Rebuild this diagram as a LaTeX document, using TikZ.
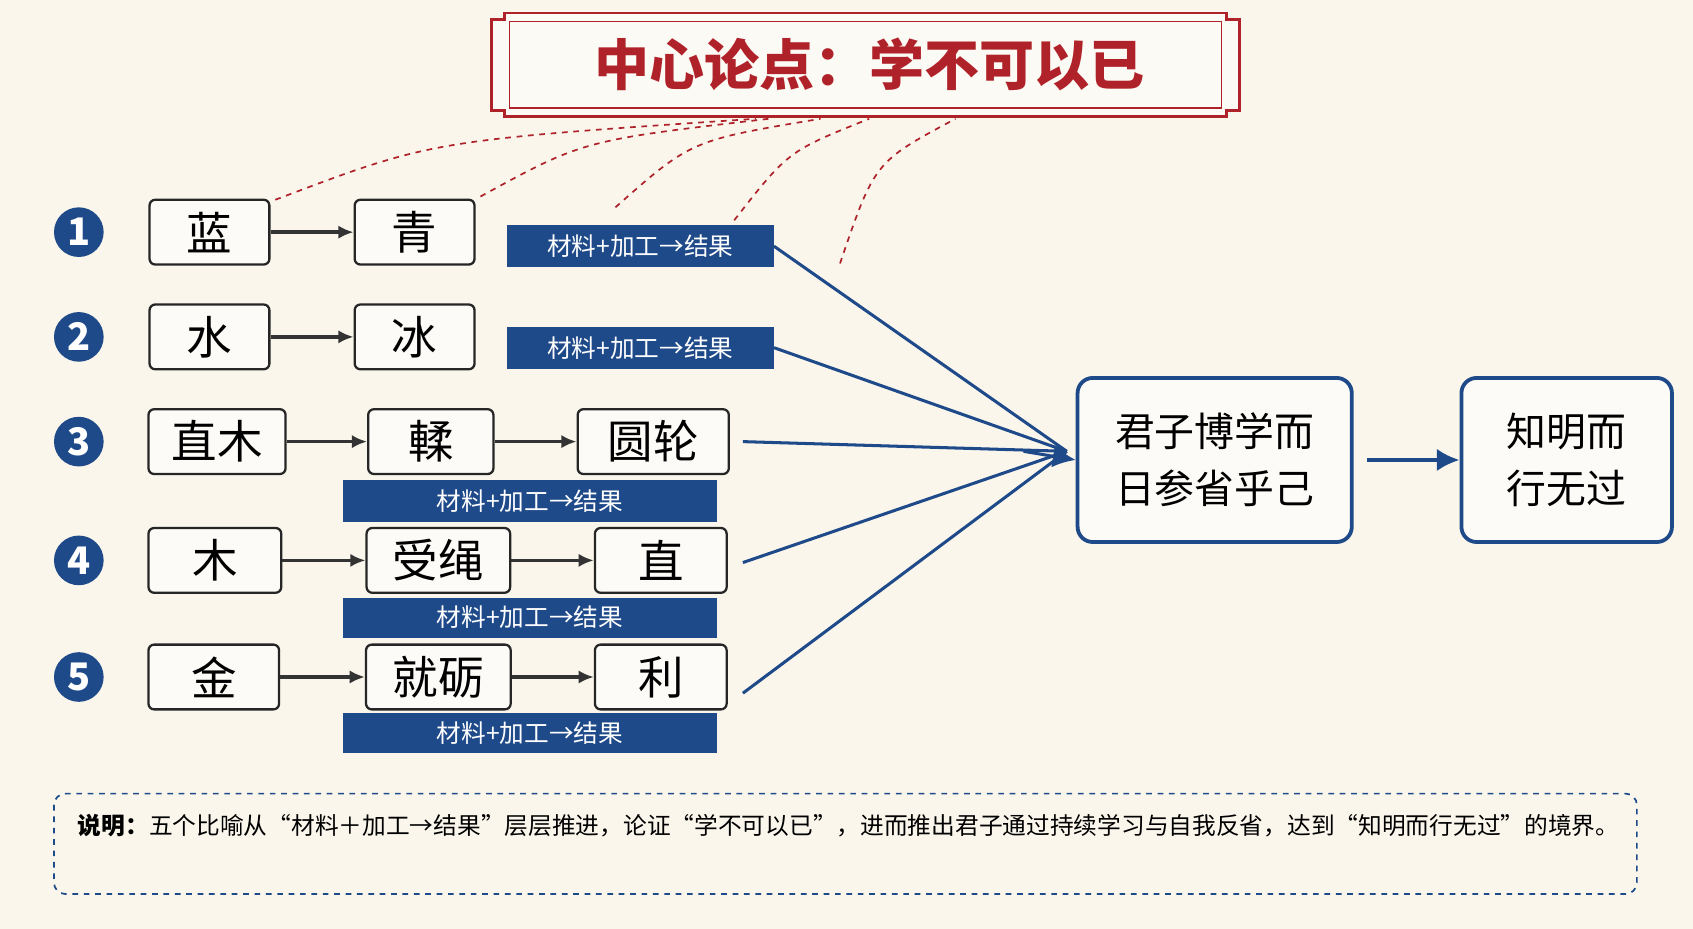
\documentclass[tikz,border=0pt]{standalone}
\usepackage{fontspec}
\setmainfont{Noto Sans CJK SC}
\usetikzlibrary{arrows.meta}
\definecolor{navy}{HTML}{1F4A8A}
\definecolor{crimson}{HTML}{B0222A}
\definecolor{paper}{HTML}{FAF6EC}
\tikzset{
  word/.style={draw=black!85, line width=1.2pt, rounded corners=3pt, fill=white!60!paper, font=\fontsize{24}{26}\selectfont},
  tag/.style={fill=navy, text=white, font=\fontsize{13}{15}\selectfont},
  num/.style={circle, fill=navy, text=white, minimum size=0.92cm, inner sep=0pt, font=\fontsize{20}{22}\selectfont\bfseries},
  turn/.style={-{Latex[length=8pt,width=7pt]}, line width=1.8pt, black!80},
  feed/.style={navy, line width=1.6pt},
  link/.style={crimson, dashed, line width=0.9pt},
  goal/.style={draw=navy, line width=2pt, rounded corners=8pt, fill=white!60!paper, font=\fontsize{21}{30}\selectfont, align=center}
}
\begin{document}
\begin{tikzpicture}[x=0.02cm,y=-0.02cm]
  \fill[paper] (0,0) rectangle (1568,860);
  \useasboundingbox (0,0) rectangle (1568,860);

  % title
  \draw[crimson, line width=1.5pt, fill=white!50!paper] (467,12) -- (1136,12) -- (1136,18) -- (1148,18) -- (1148,102) -- (1136,102) -- (1136,108)
    -- (467,108) -- (467,102) -- (455,102) -- (455,18) -- (467,18) -- cycle;
  \draw[crimson, line width=0.6pt] (472,20) rectangle (1131,100);
  \node[text=crimson, font=\fontsize{29}{31}\selectfont\bfseries] (title) at (805,60) {中心论点：学不可以已};

  % numbers
  \foreach \n/\y in {1/215,2/312,3/409,4/519,5/627}
    \node[num] (n\n) at (73,\y) {\n};

  % row 1 and 2
  \node[word, minimum width=2.22cm, minimum height=1.2cm] (lan) at (194,215) {蓝};
  \node[word, minimum width=2.22cm, minimum height=1.2cm] (qing) at (384,215) {青};
  \node[tag, minimum width=4.94cm, minimum height=0.78cm] (t1) at (593,228) {材料+加工→结果};
  \node[word, minimum width=2.22cm, minimum height=1.2cm] (shui) at (194,312) {水};
  \node[word, minimum width=2.22cm, minimum height=1.2cm] (bing) at (384,312) {冰};
  \node[tag, minimum width=4.94cm, minimum height=0.78cm] (t2) at (593,322) {材料+加工→结果};
  \draw[turn] (lan) -- (qing);
  \draw[turn] (shui) -- (bing);

  % row 3
  \node[word, minimum width=2.54cm, minimum height=1.2cm] (zhimu) at (201,409) {直木};
  \node[word, minimum width=2.32cm, minimum height=1.2cm] (rou) at (399,409) {輮};
  \node[word, minimum width=2.8cm, minimum height=1.2cm] (lun) at (605,409) {圆轮};
  \node[tag, minimum width=6.94cm, minimum height=0.76cm] (t3) at (491,464) {材料+加工→结果};
  \draw[turn] (zhimu) -- (rou);
  \draw[turn] (rou) -- (lun);

  % row 4
  \node[word, minimum width=2.46cm, minimum height=1.2cm] (mu) at (199,519) {木};
  \node[word, minimum width=2.66cm, minimum height=1.2cm] (sheng) at (406,519) {受绳};
  \node[word, minimum width=2.44cm, minimum height=1.2cm] (zhi) at (612,519) {直};
  \node[tag, minimum width=6.94cm, minimum height=0.74cm] (t4) at (491,572) {材料+加工→结果};
  \draw[turn] (mu) -- (sheng);
  \draw[turn] (sheng) -- (zhi);

  % row 5
  \node[word, minimum width=2.42cm, minimum height=1.2cm] (jin) at (198,627) {金};
  \node[word, minimum width=2.68cm, minimum height=1.2cm] (li) at (406,627) {就砺};
  \node[word, minimum width=2.44cm, minimum height=1.2cm] (sharp) at (612,627) {利};
  \node[tag, minimum width=6.94cm, minimum height=0.74cm] (t5) at (491,679) {材料+加工→结果};
  \draw[turn] (jin) -- (li);
  \draw[turn] (li) -- (sharp);

  % convergence
  \coordinate (meet) at (988,418);
  \node[goal, minimum width=5.08cm, minimum height=3.04cm] (junzi) at (1125,426) {君子博学而\\日参省乎己};
  \node[goal, minimum width=3.9cm, minimum height=3.04cm] (wuguo) at (1451,426) {知明而\\行无过};
  \draw[feed] (t1.east) -- (meet);
  \draw[feed] (t2.east) -- (meet);
  \draw[feed] (lun.east) ++(12,0) -- (meet);
  \draw[feed] (zhi.east) ++(14,2) -- (meet);
  \draw[feed] (sharp.east) ++(14,15) -- (meet);
  \draw[navy, -{Latex[length=12pt,width=12pt]}, line width=1.6pt] (meet) ++(-40,0) -- (junzi.west);
  \draw[navy, -{Latex[length=12pt,width=12pt]}, line width=2.2pt] (junzi.east) ++(12,0) -- (wuguo.west);

  % links to the thesis
  \draw[link] (255,185) .. controls (400,130) .. (700,110);
  \draw[link] (445,182) .. controls (540,130) .. (712,110);
  \draw[link] (570,192) .. controls (640,130) .. (760,110);
  \draw[link] (680,204) .. controls (730,140) .. (805,110);
  \draw[link] (778,244) .. controls (810,150) .. (885,110);

  % note
  \draw[navy, dashed, line width=0.9pt, rounded corners=6pt] (50,735) rectangle (1516,828);
  \node[anchor=north west, text width=28.6cm, font=\fontsize{12.5}{20}\selectfont] (note) at (66,748)
    {\textbf{说明：}五个比喻从“材料＋加工→结果”层层推进，论证“学不可以已”，进而推出君子通过持续学习与自我反省，达到“知明而行无过”的境界。};
\end{tikzpicture}
\end{document}
